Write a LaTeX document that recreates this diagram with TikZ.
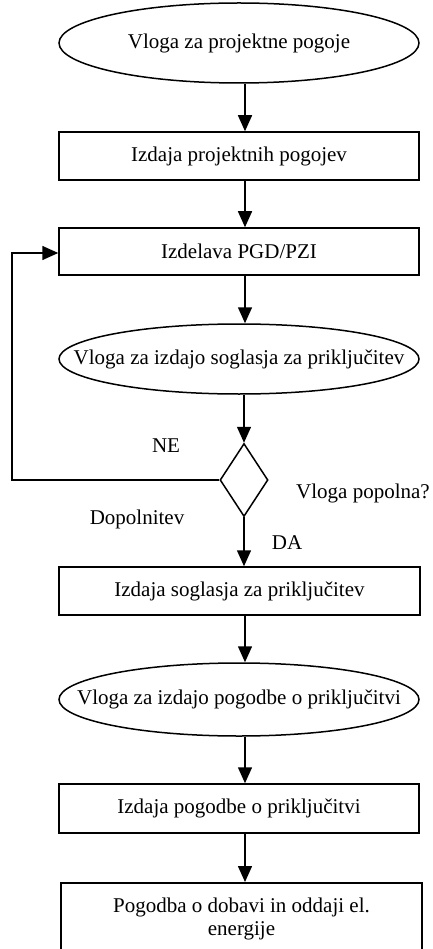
\documentclass[tikz,border=0pt]{standalone}
\usepackage{fontspec}
\setmainfont{Liberation Serif}
\usetikzlibrary{shapes.geometric,arrows.meta}
\begin{document}
\begin{tikzpicture}[x=1pt,y=-1pt,
  every node/.style={font=\fontsize{21}{24}\selectfont},
  boxn/.style={draw,line width=1.5pt,rectangle,minimum width=360pt,inner sep=0pt,align=center},
  elln/.style={draw,line width=1.5pt,ellipse,minimum width=360pt,inner sep=0pt},
  dec/.style={draw,line width=1.5pt,diamond,minimum width=48pt,minimum height=73pt,inner sep=0pt},
  arr/.style={line width=1.5pt,-{Triangle[length=16pt,width=14pt]}},
  lbl/.style={inner sep=0pt}]
\useasboundingbox (0,0) rectangle (433,949);
\clip (0,0) rectangle (433,949);
\node[elln,minimum height=80pt] (e1) at (239,43) {\makebox[0pt]{Vloga za projektne pogoje}};
\node[boxn,minimum height=48pt] (b1) at (239,156) {Izdaja projektnih pogojev};
\node[boxn,minimum height=47pt] (b2) at (239,251.5) {Izdelava PGD/PZI};
\node[elln,minimum height=70pt] (e2) at (239,359) {\makebox[0pt]{Vloga za izdajo soglasja za priključitev}};
\node[dec] (d) at (244,480) {};
\node[boxn,minimum height=48pt,minimum width=361pt] (b3) at (239.5,591) {Izdaja soglasja za priključitev};
\node[elln,minimum height=73pt] (e3) at (239,699.5) {\makebox[0pt]{Vloga za izdajo pogodbe o priključitvi}};
\node[boxn,minimum height=49pt] (b4) at (239,808.5) {Izdaja pogodbe o priključitvi};
\node[boxn,minimum height=150pt,minimum width=361pt,anchor=north] (b5) at (241.5,882) {};
\node[lbl,align=center] (b5t) at (241.5,918.5) {Pogodba o dobavi in oddaji el.\\[-1pt]energije};
\coordinate (ax) at (245,0);
\coordinate (lx) at (12,0);
\draw[arr] (e1.south -| ax) -- (b1.north -| ax);
\draw[arr] (b1.south -| ax) -- (b2.north -| ax);
\draw[arr] (b2.south -| ax) -- (e2.north -| ax);
\draw[arr] (e2.south -| d) -- (d.north);
\draw[arr] (d.south) -- (b3.north -| d);
\draw[arr] (b3.south -| ax) -- (e3.north -| ax);
\draw[arr] (e3.south -| ax) -- (b4.north -| ax);
\draw[arr] (b4.south -| ax) -- (b5.north -| ax);
\draw[arr] (d.west) -- (d.west -| lx) -- ([yshift=-1.5pt]b2.west -| lx) -- ([yshift=-1.5pt]b2.west);
\node[lbl] (ne) at (166,446) {NE};
\node[lbl] (vp) at (363,493) {Vloga popolna?};
\node[lbl] (dop) at (137,519) {Dopolnitev};
\node[lbl] (da) at (287,543) {DA};
\end{tikzpicture}
\end{document}
